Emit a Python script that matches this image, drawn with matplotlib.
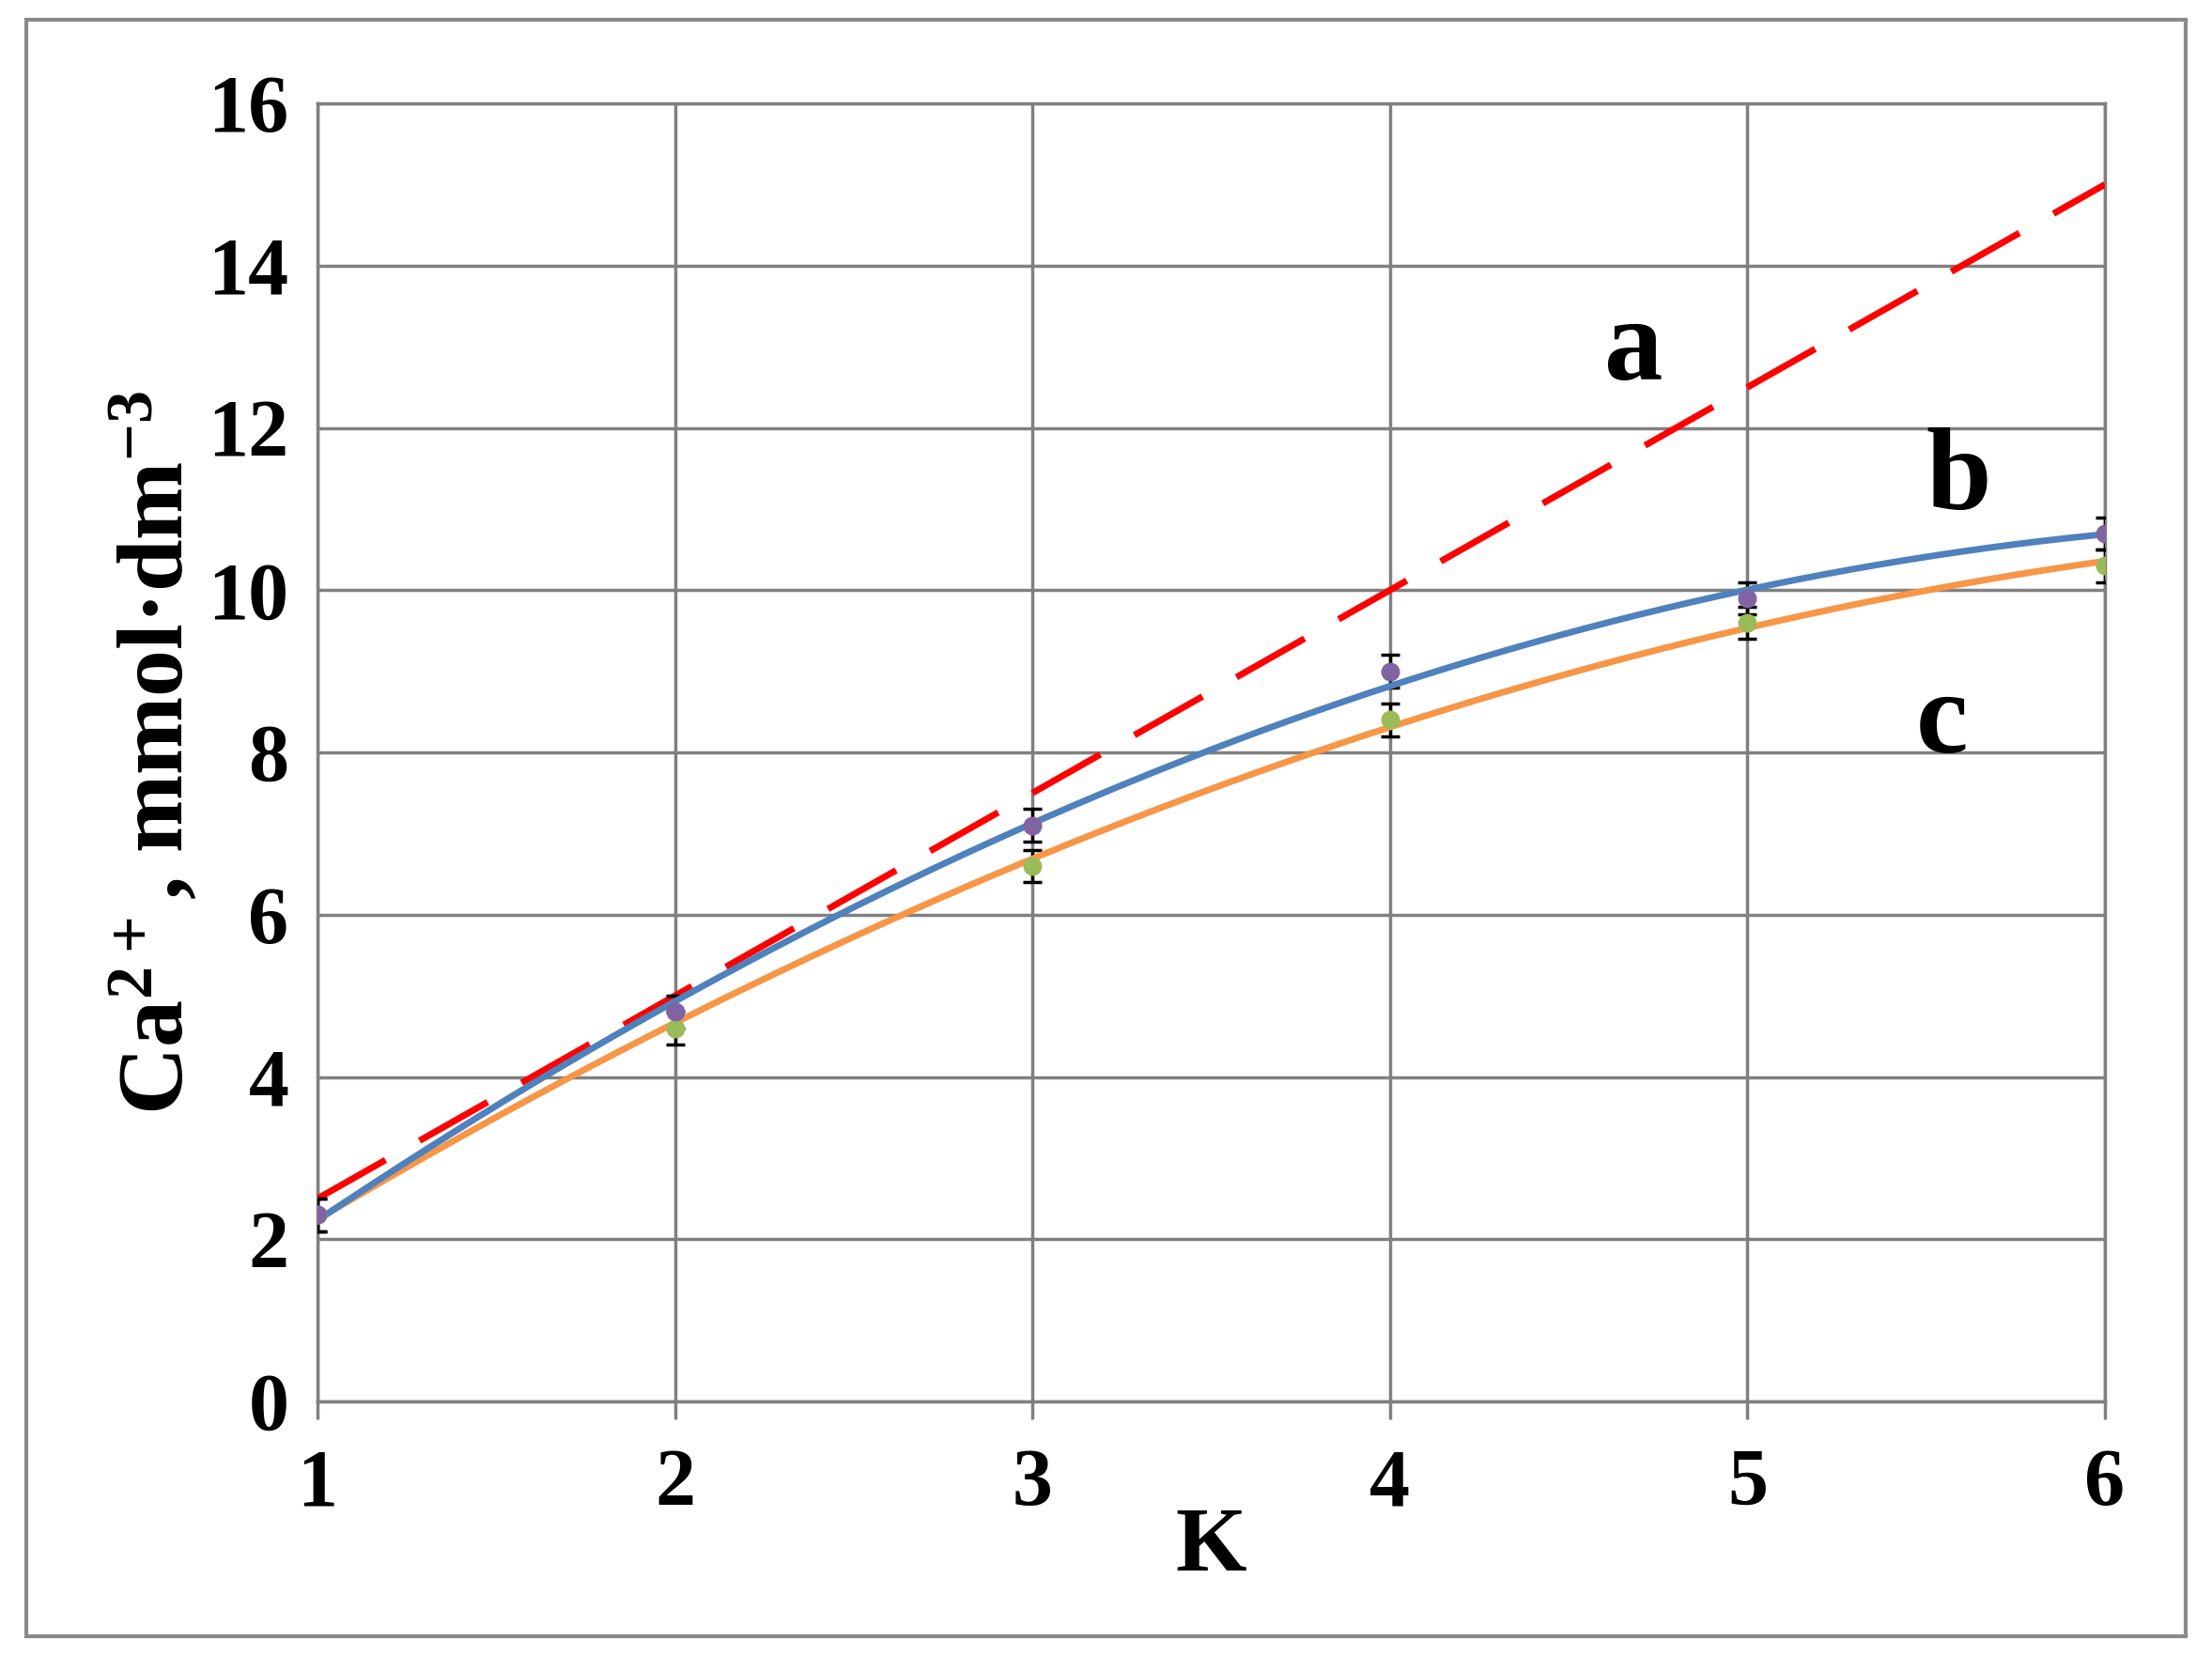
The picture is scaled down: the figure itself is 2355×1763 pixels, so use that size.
import numpy as np
import matplotlib
matplotlib.use("Agg")
import matplotlib.pyplot as plt
from matplotlib.patches import Rectangle

K = [1, 2, 3, 4, 5, 6]
line_a = [2.5, 5.0, 7.5, 10.0, 12.5, 15.0]
series_b = [2.3, 4.8, 7.1, 9.0, 9.9, 10.7]
series_c = [2.3, 4.6, 6.6, 8.4, 9.6, 10.3]
err_b = [0.2, 0.2, 0.2, 0.2, 0.2, 0.2]
err_c = [0.2, 0.2, 0.2, 0.2, 0.2, 0.2]

plt.rcParams['font.family'] = ['Liberation Serif', 'DejaVu Serif']
plt.rcParams['font.weight'] = 'bold'
plt.rcParams['mathtext.fontset'] = 'custom'
plt.rcParams['mathtext.rm'] = 'Liberation Serif:bold'
plt.rcParams['mathtext.bf'] = 'Liberation Serif:bold'
plt.rcParams['mathtext.default'] = 'bf'

fig = plt.figure(figsize=(23.55, 17.63), dpi=100)
ax = fig.add_axes([0.1435, 0.1537, 0.8081, 0.7839])

fig.patches.append(Rectangle((0.012, 0.012), 0.976, 0.976, transform=fig.transFigure,
                             fill=False, edgecolor='#8a8a8a', lw=3))

xs = np.linspace(1, 6, 200)
xk = np.array(K, float)
pb = np.polyfit(xk, series_b, 2)
pc = np.polyfit(xk, series_c, 2)

ax.plot(K, line_a, color='#ff0000', lw=5, dashes=(12, 6), zorder=3)
ax.errorbar(K, series_b, yerr=err_b, fmt='none', ecolor='black', elinewidth=2.5, capsize=7, capthick=2.5, zorder=4)
ax.errorbar(K, series_c, yerr=err_c, fmt='none', ecolor='black', elinewidth=2.5, capsize=7, capthick=2.5, zorder=4)
ax.plot(xs, np.polyval(pc, xs), color='#f79646', lw=5, zorder=5)
ax.plot(xs, np.polyval(pb, xs), color='#4f81bd', lw=5, zorder=5)
ax.scatter(K, series_c, s=180, color='#9bbb59', zorder=6)
ax.scatter(K, series_b, s=180, color='#8064a2', zorder=6)

ax.set_xlim(1, 6)
ax.set_ylim(0, 16)
ax.set_xticks(K)
ax.set_yticks(range(0, 17, 2))
ax.grid(True, color='#808080', lw=2.5)
for s in ax.spines.values():
    s.set_color('#808080'); s.set_linewidth(2.5)
ax.tick_params(axis='both', labelsize=62, color='#808080', width=2.5, length=14)
ax.tick_params(axis='x', pad=22)
ax.tick_params(axis='y', length=0, pad=22)
for lab in ax.get_xticklabels() + ax.get_yticklabels():
    lab.set_fontweight('bold')

ax.set_xlabel('K', fontsize=70, fontweight='bold', labelpad=-12)
ax.set_ylabel(r'Ca$^{2+}$, mmol·dm$^{-3}$', fontsize=72, fontweight='bold', labelpad=4)

ax.text(4.6, 12.6, 'a', fontsize=90, fontweight='bold')
ax.text(5.5, 11.0, 'b', fontsize=90, fontweight='bold')
ax.text(5.47, 8.0, 'c', fontsize=90, fontweight='bold')

fig.savefig('out.png', dpi=100)
